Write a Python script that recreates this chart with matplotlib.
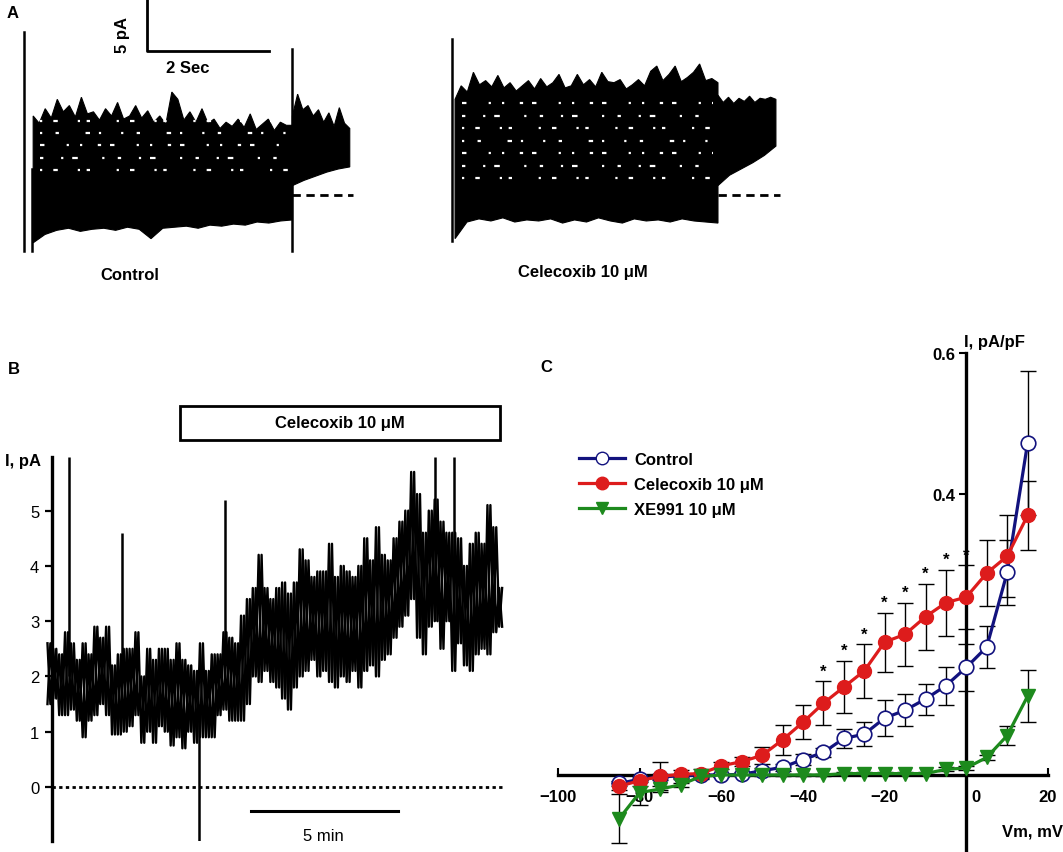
import numpy as np
import matplotlib
matplotlib.use('Agg')
import matplotlib.pyplot as plt
from matplotlib.patches import Rectangle
from matplotlib.lines import Line2D

plt.rcParams['font.family'] = ['Liberation Sans', 'DejaVu Sans']

# ---------------- data ----------------
# Panel A: current sweeps (time in s, current in pA), envelopes
ctl_body_t = (0.15, 4.40)
ctl_body_top = [7.6, 6.9, 8.3, 7.4, 9.2, 8.0, 8.6, 7.5, 9.4, 7.8, 8.0, 7.2, 8.3, 7.6, 8.9,
                7.3, 7.6, 8.6, 7.4, 8.1, 7.0, 7.6, 6.8, 9.9, 9.2, 7.2, 8.0, 7.0, 8.3, 6.9,
                7.3, 6.4, 7.0, 6.6, 7.3, 6.5, 7.8, 6.3, 6.8, 7.3, 6.2, 7.0, 6.7, 6.7]
ctl_body_bot = [-4.6, -3.8, -3.4, -3.2, -3.5, -3.3, -3.2, -3.4, -3.1, -3.3, -4.2, -3.2,
                -3.1, -3.0, -3.2, -2.9, -3.0, -2.8, -2.9, -2.6, -2.7, -2.5, -2.4]
ctl_tail_t = (4.40, 5.34)
ctl_tail_top = [7.6, 9.7, 8.2, 8.6, 7.6, 8.2, 7.0, 7.9, 6.6, 8.4, 6.9, 6.4]
ctl_tail_bot = [0.9, 1.4, 1.8, 2.2, 2.5, 2.7]
ctl_artifacts = [(0.0, -5.4, 15.7), (0.137, -5.4, 2.5), (4.40, -5.4, 14.0)]
ctl_gaps = [2.4, 3.6, 4.8, 6.0, 7.1]

cel_body_t = (0.05, 4.36)
cel_body_top = [9.2, 10.5, 9.9, 11.8, 10.6, 11.0, 10.4, 11.5, 10.3, 10.8, 10.0, 10.5, 11.0,
                10.2, 11.2, 10.4, 10.8, 11.6, 10.3, 10.5, 11.6, 10.6, 11.1, 10.4, 11.8, 10.9,
                10.8, 11.1, 10.2, 10.6, 11.1, 10.5, 11.9, 12.4, 11.0, 11.6, 12.4, 10.9, 11.3,
                11.8, 12.6, 11.0, 11.2, 10.8]
cel_body_bot = [-4.2, -2.6, -2.3, -2.5, -2.2, -2.6, -2.4, -2.5, -2.3, -2.7, -2.4, -2.6,
                -2.2, -2.5, -2.7, -2.3, -2.5, -2.4, -2.6, -2.3, -2.5, -2.6, -2.7]
cel_tail_t = (4.36, 5.31)
cel_tail_top = [9.6, 8.9, 9.4, 8.8, 9.3, 9.0, 9.5, 8.9, 9.3, 9.2, 9.4, 9.2]
cel_tail_bot = [0.9, 1.9, 2.5, 3.1, 3.8, 4.7]
cel_artifacts = [(0.0, -4.4, 15.0)]
cel_gaps = [1.6, 2.8, 4.0, 5.2, 6.4, 7.6, 8.8]

# Panel B: time course (min) of holding current, high/low per 0.2 min bin
b_hi = [2.6, 2.5, 2.4, 2.8, 2.6, 2.3, 2.6, 2.4, 2.9, 2.7, 2.9, 2.2, 2.4, 2.5, 2.5, 2.8,
        2.0, 2.5, 2.3, 2.5, 2.5, 2.3, 2.6, 2.3, 2.2, 2.1, 2.6, 2.1, 2.4, 2.4, 2.8, 2.7,
        2.6, 3.1, 3.4, 3.6, 4.2, 3.6, 3.4, 3.6, 3.7, 3.5, 3.7, 4.3, 4.1, 3.8, 3.9, 3.9,
        4.4, 3.8, 4.0, 3.9, 3.8, 4.0, 4.5, 4.1, 4.7, 4.2, 4.1, 4.5, 4.8, 5.0, 5.7, 5.3,
        4.6, 5.0, 5.2, 4.8, 4.6, 4.6, 4.5, 4.0, 4.4, 4.6, 4.4, 5.1, 4.7, 3.6]
b_lo = [1.5, 1.6, 1.3, 1.3, 1.4, 1.2, 0.9, 1.2, 1.3, 1.5, 1.3, 0.95, 0.95, 1.0, 1.1, 1.3,
        0.8, 1.0, 0.8, 1.1, 1.0, 0.75, 0.9, 0.7, 1.0, 0.8, 0.9, 0.9, 0.9, 1.3, 1.4, 1.2,
        1.2, 1.2, 1.5, 2.0, 1.9, 2.1, 1.9, 1.8, 1.6, 1.4, 1.8, 2.0, 2.1, 2.3, 2.0, 2.1,
        1.9, 1.8, 2.0, 1.9, 2.1, 1.8, 2.1, 2.2, 2.0, 2.3, 2.4, 2.7, 2.9, 3.1, 3.4, 2.7,
        2.4, 2.9, 3.0, 2.5, 3.0, 2.1, 2.6, 2.2, 2.1, 2.4, 2.5, 2.4, 2.8, 2.9]
b_bin = 0.2
spike_t = [0.8, 2.6, 5.2, 6.1, 13.25, 13.9]
spike_from = [2.0, 2.0, 1.5, 2.2, 3.0, 3.0]
spike_to = [5.97, 4.6, -0.98, 5.2, 5.97, 5.97]
drug_on, drug_off = 4.57, 15.48

# Panel C: I-V relation
vm = [-85, -80, -75, -70, -65, -60, -55, -50, -45, -40, -35, -30, -25, -20, -15, -10,
      -5, 0, 5, 10, 15]
ctl = [-0.012, -0.006, -0.003, -0.001, 0.0, 0.0, 0.001, 0.006, 0.011, 0.022, 0.032, 0.052,
       0.058, 0.081, 0.092, 0.108, 0.127, 0.153, 0.182, 0.288, 0.472]
ctl_err = [0.004, 0.004, 0.004, 0.003, 0.003, 0.003, 0.003, 0.004, 0.005, 0.008, 0.007,
           0.014, 0.017, 0.025, 0.023, 0.022, 0.027, 0.033, 0.030, 0.046, 0.103]
cel = [-0.016, -0.008, -0.002, 0.001, 0.002, 0.013, 0.019, 0.028, 0.050, 0.075, 0.102,
       0.125, 0.148, 0.189, 0.200, 0.225, 0.245, 0.253, 0.287, 0.311, 0.369]
cel_err = [0.005, 0.008, 0.020, 0.006, 0.006, 0.005, 0.006, 0.012, 0.021, 0.024, 0.031,
           0.037, 0.038, 0.042, 0.045, 0.047, 0.047, 0.045, 0.047, 0.058, 0.049]
xe = [-0.062, -0.025, -0.020, -0.014, -0.002, 0.0, 0.0, 0.0, 0.0, 0.0, 0.0, 0.002, 0.002,
      0.002, 0.002, 0.002, 0.008, 0.010, 0.025, 0.056, 0.112]
xe_err = [0.035, 0.018, 0.004, 0.003, 0.003, 0.002, 0.002, 0.002, 0.002, 0.002, 0.002,
          0.002, 0.002, 0.002, 0.002, 0.002, 0.003, 0.003, 0.004, 0.013, 0.037]
signif_vm = [-35, -30, -25, -20, -15, -10, -5, 0]

c_blue = '#12127e'
c_red = '#dd1c1c'
c_green = '#1d8a1d'

W, H = 1063, 853
fig = plt.figure(figsize=(W / 100, H / 100), dpi=100)


def px_rect(x0, y0, x1, y1):
    return [x0 / W, 1 - y1 / H, (x1 - x0) / W, (y1 - y0) / H]


def env_poly(ax, t0, t1, top, bot):
    tx = np.linspace(t0, t1, len(top))
    bx = np.linspace(t0, t1, len(bot))
    xs = np.concatenate([tx, bx[::-1]])
    ys = np.concatenate([top, bot[::-1]])
    ax.fill(xs, ys, color='black', lw=0.8)


# irregular white flecks between the overlapping sweeps
gap_dashes = [(1.0, 5, 2.0, 9, 1.0, 3, 1.5, 12),
              (1.5, 8, 1.0, 4, 2.5, 11, 1.0, 6),
              (2.0, 10, 1.0, 5, 1.0, 7, 1.5, 4),
              (1.0, 6, 1.5, 12, 2.0, 4, 1.0, 9)]


def draw_recording(ax, body_t, body_top, body_bot, tail_t, tail_top, tail_bot,
                   artifacts, gaps):
    env_poly(ax, body_t[0], body_t[1], body_top, body_bot)
    env_poly(ax, tail_t[0], tail_t[1], tail_top, tail_bot)
    for t, lo, hi in artifacts:
        ax.plot([t, t], [lo, hi], color='black', lw=1.8)
    for i, lvl in enumerate(gaps):
        ax.plot([body_t[0] + 0.12, body_t[1] - 0.08], [lvl, lvl], color='white', lw=1.6,
                dashes=gap_dashes[i % len(gap_dashes)], dash_capstyle='butt')
    ax.plot([tail_t[0], tail_t[1] + 0.06], [0, 0], color='black', lw=2, dashes=(3, 2))
    ax.set_ylim(-6.35, 18.85)
    ax.axis('off')


# ---------------- panel A ----------------
ax_a1 = fig.add_axes(px_rect(20, 0, 360, 262))
ax_a1.set_xlim(-0.066, 5.508)
draw_recording(ax_a1, ctl_body_t, ctl_body_top, ctl_body_bot, ctl_tail_t, ctl_tail_top,
               ctl_tail_bot, ctl_artifacts, ctl_gaps)
# scale bars
ax_a1.plot([2.016, 2.016, 4.016], [18.85, 13.85, 13.85], color='black', lw=2, clip_on=False)
ax_a1.text(2.69, 12.3, '2 Sec', ha='center', va='center', fontsize=12, fontweight='bold')
ax_a1.text(1.61, 15.5, '5 pA', ha='center', va='center', rotation=90, fontsize=12,
           fontweight='bold')

ax_a2 = fig.add_axes(px_rect(440, 0, 790, 262))
ax_a2.set_xlim(-0.197, 5.541)
draw_recording(ax_a2, cel_body_t, cel_body_top, cel_body_bot, cel_tail_t, cel_tail_top,
               cel_tail_bot, cel_artifacts, cel_gaps)

fig.text(130 / W, 1 - 276 / H, 'Control', ha='center', va='center', fontsize=12,
         fontweight='bold')
fig.text(583 / W, 1 - 273 / H, 'Celecoxib 10 μM', ha='center', va='center', fontsize=12,
         fontweight='bold')

# ---------------- panel B ----------------
ax_b = fig.add_axes(px_rect(46, 458, 503, 842))
ax_b.set_xlim(0, 15.58)
ax_b.set_ylim(-0.977, 5.97)
tb = np.arange(len(b_hi)) * b_bin + b_bin / 2
zz_t = np.column_stack([tb - b_bin / 4, tb + b_bin / 4]).ravel()
ax_b.plot(zz_t, np.column_stack([b_hi, b_lo]).ravel(), color='black', lw=1.7,
          clip_on=False)
ax_b.plot(zz_t, np.column_stack([b_lo, b_hi]).ravel(), color='black', lw=1.7,
          clip_on=False)
ax_b.vlines(spike_t, spike_from, spike_to, color='black', lw=1.8)
ax_b.plot([0.2, 15.58], [0, 0], color='black', lw=2, dashes=(1.2, 1.2))
for s in ['top', 'right', 'bottom']:
    ax_b.spines[s].set_visible(False)
ax_b.spines['left'].set_position(('data', 0.2))
ax_b.spines['left'].set_linewidth(2.4)
ax_b.set_xticks([])
ax_b.set_yticks([0, 1, 2, 3, 4, 5])
ax_b.tick_params(axis='y', length=5, width=1.6, labelsize=12, pad=4)
# drug application bar
ax_b.add_patch(Rectangle((drug_on, 6.28), drug_off - drug_on, 0.62, fill=False, lw=2,
                         clip_on=False))
ax_b.text((drug_on + drug_off) / 2, 6.59, 'Celecoxib 10 μM', ha='center', va='center',
          fontsize=12, fontweight='bold')
# time scale bar
ax_b.plot([7.0, 12.0], [-0.43, -0.43], color='black', lw=2.2, clip_on=False)
ax_b.text(9.45, -0.88, '5 min', ha='center', va='center', fontsize=12)
fig.text(5 / W, 1 - 462 / H, 'I, pA', ha='left', va='center', fontsize=12,
         fontweight='bold')

# ---------------- panel C ----------------
ax_c = fig.add_axes(px_rect(558, 354, 1048, 853))
ax_c.set_xlim(-100, 20)
ax_c.set_ylim(-0.1095, 0.6)
for s in ['top', 'right']:
    ax_c.spines[s].set_visible(False)
ax_c.spines['left'].set_position(('data', 0))
ax_c.spines['bottom'].set_position(('data', 0))
ax_c.spines['left'].set_linewidth(2.4)
ax_c.spines['bottom'].set_linewidth(2.4)
ax_c.spines['left'].set_zorder(1)
ax_c.spines['bottom'].set_zorder(1)

xt = [-100, -80, -60, -40, -20, 0, 20]
ax_c.set_xticks(xt)
ax_c.set_xticklabels(['−100', '−80', '−60', '−40', '−20', '', '20'])
ax_c.tick_params(axis='x', direction='in', length=5, width=1.5, pad=10, labelsize=12)
ax_c.text(2.4, -0.03, '0', ha='center', va='center', fontsize=12, fontweight='bold')
ax_c.set_yticks([0.4, 0.6])
ax_c.set_yticklabels(['0.4', '0.6'])
ax_c.tick_params(axis='y', direction='out', length=5, width=1.5, pad=3, labelsize=12)
for lab in ax_c.get_xticklabels() + ax_c.get_yticklabels():
    lab.set_fontweight('bold')

eb_kw = dict(fmt='none', ecolor='black', elinewidth=1, capsize=6, capthick=1, zorder=2,
             clip_on=True)
ax_c.errorbar(vm, ctl, yerr=ctl_err, **eb_kw)
ax_c.errorbar(vm, cel, yerr=cel_err, **eb_kw)
ax_c.errorbar(vm, xe, yerr=xe_err, **eb_kw)

ax_c.plot(vm, ctl, color=c_blue, lw=2.3, marker='o', ms=10.5, mfc='white', mec=c_blue,
          mew=1.2, zorder=3, clip_on=False)
ax_c.plot(vm, cel, color=c_red, lw=2.3, marker='o', ms=10, mfc=c_red, mec=c_red,
          zorder=4, clip_on=False)
ax_c.plot(vm, xe, color=c_green, lw=2.3, marker='v', ms=10, mfc=c_green, mec=c_green,
          zorder=5, clip_on=False)

for v in signif_vm:
    i = vm.index(v)
    ax_c.text(v, cel[i] + cel_err[i] + 0.004, '*', ha='center', va='bottom',
              fontsize=12, fontweight='bold', zorder=1)

handles = [
    Line2D([0], [0], color=c_blue, lw=2.3, marker='o', ms=9, mfc='white', mec=c_blue),
    Line2D([0], [0], color=c_red, lw=2.3, marker='o', ms=9, mfc=c_red, mec=c_red),
    Line2D([0], [0], color=c_green, lw=2.3, marker='v', ms=9, mfc=c_green, mec=c_green),
]
fig.legend(handles, ['Control', 'Celecoxib 10 μM', 'XE991 10 μM'], loc='upper left',
           bbox_to_anchor=(579 / W, 1 - 453 / H), frameon=False,
           prop={'size': 12, 'weight': 'bold'}, handlelength=2.75, handletextpad=0.55,
           labelspacing=0.6, borderpad=0, borderaxespad=0)

fig.text(994 / W, 1 - 343 / H, 'I, pA/pF', ha='center', va='center', fontsize=12,
         fontweight='bold')
fig.text(1002 / W, 1 - 832 / H, 'Vm, mV', ha='left', va='center', fontsize=12,
         fontweight='bold')

# panel letters
fig.text(7 / W, 1 - 13 / H, 'A', ha='left', va='center', fontsize=12, fontweight='bold')
fig.text(8 / W, 1 - 370 / H, 'B', ha='left', va='center', fontsize=12, fontweight='bold')
fig.text(540 / W, 1 - 368 / H, 'C', ha='left', va='center', fontsize=12, fontweight='bold')

fig.savefig('out.png', dpi=100, facecolor='white')
